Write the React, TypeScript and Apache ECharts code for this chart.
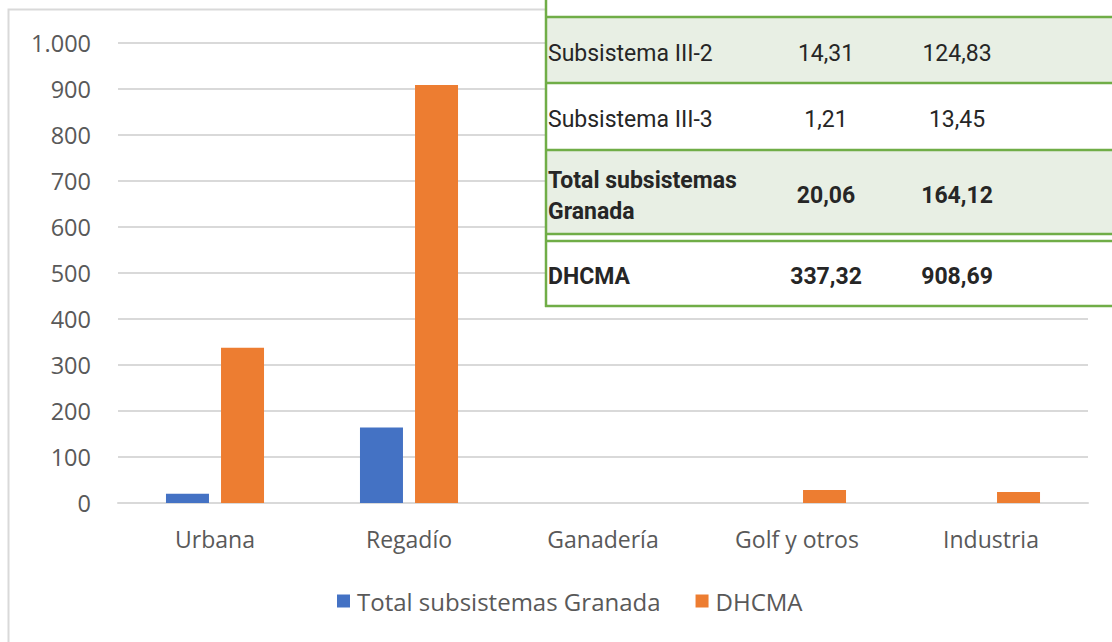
import React, { useEffect, useRef } from "react";
import * as echarts from "echarts";

const categories = ["Urbana", "Regadío", "Ganadería", "Golf y otros", "Industria"];
const seriesNames = ["Total subsistemas Granada", "DHCMA"];
const granadaValues = [20.06, 164.12, 0, 0, 0];
const dhcmaValues = [337.32, 908.69, 0, 28, 24];
const yTicks = { min: 0, max: 1000, interval: 100 };

const tableRows = [
  { label: ["Subsistema III-2"], a: "14,31", b: "124,83", bold: false, fill: true },
  { label: ["Subsistema III-3"], a: "1,21", b: "13,45", bold: false, fill: false },
  { label: ["Total subsistemas", "Granada"], a: "20,06", b: "164,12", bold: true, fill: true },
  { label: ["DHCMA"], a: "337,32", b: "908,69", bold: true, fill: false },
];

const fmt = (v: number) => String(v).replace(/\B(?=(\d{3})+(?!\d))/g, ".");

export default function App() {
  const ref = useRef<HTMLDivElement>(null);
  useEffect(() => {
    if (!ref.current) return;
    const chart = echarts.init(ref.current, undefined, { renderer: "svg" });
    const font = "'Open Sans', sans-serif";
    const tfont = "Roboto, sans-serif";
    const green = "#70ad47";
    const rowBounds = [
      [17, 83],
      [83, 150],
      [150, 234],
      [241, 306],
    ];
    const tableX = 545;
    const col1 = 826;
    const col2 = 957;
    const tsize = 23;
    const graphics: any[] = [
      {
        type: "rect",
        shape: { x: 8.5, y: 9.5, width: 1200, height: 700 },
        style: { fill: "none", stroke: "#d9d9d9", lineWidth: 2 },
        z: -10,
      },
      {
        type: "rect",
        shape: { x: tableX, y: 0, width: 600, height: 307 },
        style: { fill: "#ffffff" },
        z: 10,
      },
    ];
    tableRows.forEach((r, i) => {
      const [y0, y1] = rowBounds[i];
      if (r.fill) {
        graphics.push({
          type: "rect",
          shape: { x: tableX, y: y0, width: 600, height: y1 - y0 },
          style: { fill: "#e8efe4" },
          z: 11,
        });
      }
      const cy = (y0 + y1) / 2 + 3;
      const weight = r.bold ? "bold" : "normal";
      const color = "#262626";
      if (r.label.length === 1) {
        graphics.push({
          type: "text",
          x: tableX + 3,
          y: cy,
          style: { text: r.label[0], font: `${weight} ${tsize}px ${tfont}`, fill: color, textVerticalAlign: "middle" },
          z: 13,
        });
      } else {
        r.label.forEach((t, k) => {
          graphics.push({
            type: "text",
            x: tableX + 3,
            y: cy - 15 + k * 31,
            style: { text: t, font: `${weight} ${tsize}px ${tfont}`, fill: color, textVerticalAlign: "middle" },
            z: 13,
          });
        });
      }
      graphics.push({
        type: "text",
        x: col1,
        y: cy,
        style: { text: r.a, font: `${weight} ${tsize}px ${tfont}`, fill: color, textAlign: "center", textVerticalAlign: "middle" },
        z: 13,
      });
      graphics.push({
        type: "text",
        x: col2,
        y: cy,
        style: { text: r.b, font: `${weight} ${tsize}px ${tfont}`, fill: color, textAlign: "center", textVerticalAlign: "middle" },
        z: 13,
      });
    });
    [17, 83, 150, 234, 241, 306].forEach((y) => {
      graphics.push({
        type: "line",
        shape: { x1: tableX, y1: y, x2: 1112, y2: y },
        style: { stroke: green, lineWidth: 2.5 },
        z: 14,
      });
    });
    graphics.push({
      type: "line",
      shape: { x1: tableX + 1, y1: 0, x2: tableX + 1, y2: 307 },
      style: { stroke: green, lineWidth: 2.5 },
      z: 14,
    });

    chart.setOption({
      animation: false,
      backgroundColor: "#ffffff",
      grid: { left: 118, right: 24, top: 43, bottom: 139, containLabel: false },
      legend: {
        data: seriesNames,
        left: 337,
        top: 589,
        padding: 0,
        icon: "rect",
        itemWidth: 13,
        itemHeight: 13,
        itemGap: 35,
        textStyle: { fontFamily: font, fontSize: 24, color: "#595959", padding: [0, 0, 0, 2] },
      },
      xAxis: {
        type: "category",
        data: categories,
        axisTick: { show: false },
        axisLine: { lineStyle: { color: "#d9d9d9", width: 2 } },
        axisLabel: { fontFamily: font, fontSize: 23, color: "#595959", margin: 24 },
      },
      yAxis: {
        type: "value",
        min: yTicks.min,
        max: yTicks.max,
        interval: yTicks.interval,
        axisLine: { show: false },
        axisTick: { show: false },
        splitLine: { lineStyle: { color: "#d9d9d9", width: 2 } },
        axisLabel: { fontFamily: font, fontSize: 23.5, color: "#595959", margin: 27, formatter: (v: number) => fmt(v) },
      },
      series: [
        {
          name: seriesNames[0],
          type: "bar",
          data: granadaValues,
          barWidth: 43,
          barGap: "28%",
          itemStyle: { color: "#4472c4" },
        },
        {
          name: seriesNames[1],
          type: "bar",
          data: dhcmaValues,
          barWidth: 43,
          barGap: "28%",
          itemStyle: { color: "#ed7d31" },
        },
      ],
      graphic: graphics,
    });
    return () => chart.dispose();
  }, []);
  return <div ref={ref} style={{ position: "fixed", left: 0, top: 0, width: 1112, height: 642 }} />;
}
